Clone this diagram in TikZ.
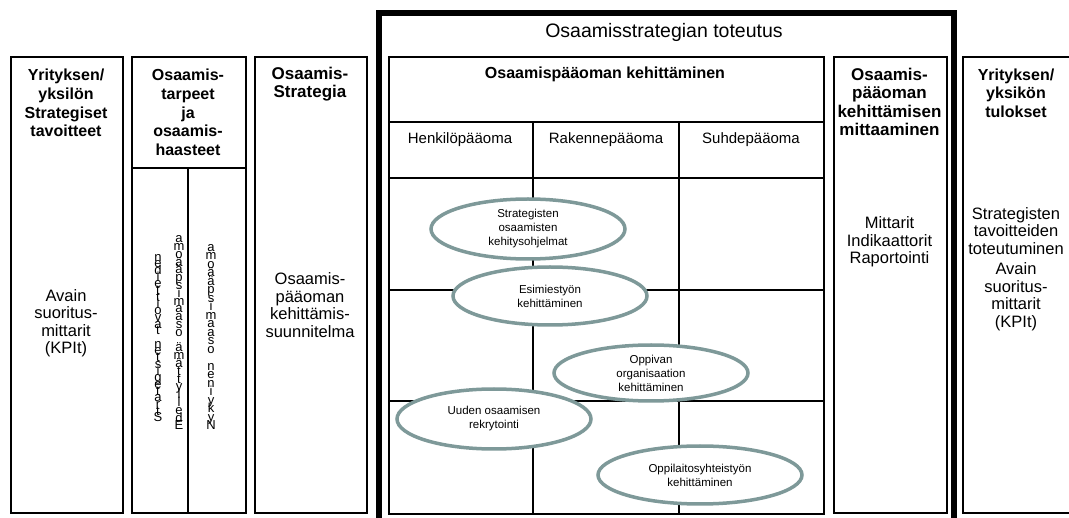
\documentclass[tikz,border=0pt]{standalone}
\usepackage{fontspec}
\setmainfont{Liberation Sans}
\usetikzlibrary{shapes.geometric}
\definecolor{ovalgrey}{RGB}{126,153,153}

% letters stacked upward, one upright glyph per step
\newcommand\stackup[5]{% name, x, baseline of first letter, pitch, letters
  \foreach \ch [count=\k from 0] in {#5} {
    \node[stackch, anchor=base] (#1-\k) at (#2, #3-\k*#4) {\ch};
  }}

\begin{document}
\begin{tikzpicture}[x=1pt, y=-1pt,
  box/.style={draw, line width=2pt, inner sep=0pt},
  frame/.style={draw, line width=5.5pt},
  grid/.style={draw, line width=2pt},
  head/.style={font=\bfseries\fontsize{16}{18.7}\selectfont, align=center, inner sep=0pt},
  bighead/.style={font=\bfseries\fontsize{17}{18.5}\selectfont, align=center, inner sep=0pt},
  body/.style={font=\fontsize{16.5}{17.5}\selectfont, align=center, inner sep=0pt},
  sub/.style={font=\fontsize{15}{17}\selectfont, align=center, inner sep=0pt},
  title/.style={font=\fontsize{19.5}{22}\selectfont, inner sep=0pt},
  stackch/.style={font=\fontsize{13}{13}\selectfont, inner sep=0pt},
  oval/.style={ellipse, draw=ovalgrey, fill=white, line width=3.5pt, inner sep=0pt,
               font=\fontsize{11.5}{14}\selectfont, align=center}]
\useasboundingbox (0,0) rectangle (1069,518);
\clip (0,0) rectangle (1069,518);
\fill[white] (0,0) rectangle (1069,518);

% left-hand columns
\node[box, anchor=north west, minimum width=112pt, minimum height=456pt] (yrit) at (10,56) {};
\node[box, anchor=north west, minimum width=114pt, minimum height=456pt] (tarve) at (131,56) {};
\node[box, anchor=north west, minimum width=112pt, minimum height=456pt] (strat) at (254,56) {};
\draw[grid] (131,168) -- (245,168);
\draw[grid] (188,168) -- (188,512);

\node[head] (yrit-h) at (66,103) {Yrityksen/\\yksilön\\Strategiset\\tavoitteet};
\node[body] (yrit-b) at (66,323) {Avain\\suoritus-\\mittarit\\(KPIt)};
\node[head] (tarve-h) at (188,112.5) {Osaamis-\\tarpeet\\ja\\osaamis-\\haasteet};
\node[bighead] (strat-h) at (310,84) {Osaamis-\\Strategia};
\node[body] (strat-b) at (310,305) {Osaamis-\\pääoman\\kehittämis-\\suunnitelma};

\stackup{sa}{158}{422}{6.7}{S,t,r,a,t,e,g,i,s,t,e,n,{},t,a,v,o,i,t,t,e,i,d,e,n}
\stackup{sb}{179}{430}{7.8}{E,d,e,l,l,y,t,t,ä,m,ä,{},o,s,a,a,m,i,s,p,ä,ä,o,m,a}
\stackup{sc}{211}{430}{8.5}{N,y,k,y,i,n,e,n,{},o,s,a,a,m,i,s,p,ä,ä,o,m,a}

% implementation frame
\draw[frame] (379,535) -- (379,13) -- (954,13) -- (954,535);
\node[title] (toteutus) at (664,32) {Osaamisstrategian toteutus};

% development table
\node[box, anchor=north west, minimum width=435pt, minimum height=457pt] (taulu) at (388,56) {};
\draw[grid] (388,122) -- (823,122);
\draw[grid] (388,178) -- (823,178);
\draw[grid] (388,290) -- (823,290);
\draw[grid] (388,401) -- (823,401);
\draw[grid] (533,122) -- (533,513);
\draw[grid] (679,122) -- (679,513);
\node[head] (taulu-h) at (605,74) {Osaamispääoman kehittäminen};
\node[sub] (henk) at (460,140) {Henkilöpääoma};
\node[sub] (rak) at (606,140) {Rakennepääoma};
\node[sub] (suhde) at (751,140) {Suhdepääoma};

\node[oval, minimum width=194pt, minimum height=60pt] (e1) at (528,229) {Strategisten\\osaamisten\\kehitysohjelmat};
\node[oval, minimum width=194pt, minimum height=58pt] (e2) at (550,296) {Esimiestyön\\kehittäminen};
\node[oval, minimum width=194pt, minimum height=56pt] (e3) at (651,373) {Oppivan\\organisaation\\kehittäminen};
\node[oval, minimum width=194pt, minimum height=60pt] (e4) at (494,419) {Uuden osaamisen\\rekrytointi};
\node[oval, minimum width=204pt, minimum height=58pt] (e5) at (700,475) {Oppilaitosyhteistyön\\kehittäminen};

% measurement column
\node[box, anchor=north west, minimum width=113pt, minimum height=456pt] (mitt) at (833,56) {};
\node[bighead] (mitt-h) at (889.5,102) {Osaamis-\\pääoman\\kehittämisen\\mittaaminen};
\node[body] (mitt-b) at (889.5,242) {Mittarit\\Indikaattorit\\Raportointi};

% results column
\node[box, anchor=north west, minimum width=120pt, minimum height=456pt] (tulos) at (962,56) {};
\node[head] (tulos-h) at (1016,93) {Yrityksen/\\yksikön\\tulokset};
\node[body] (tulos-b) at (1016,269) {Strategisten\\tavoitteiden\\toteutuminen\\[3pt]Avain\\suoritus-\\mittarit\\(KPIt)};
\end{tikzpicture}
\end{document}
